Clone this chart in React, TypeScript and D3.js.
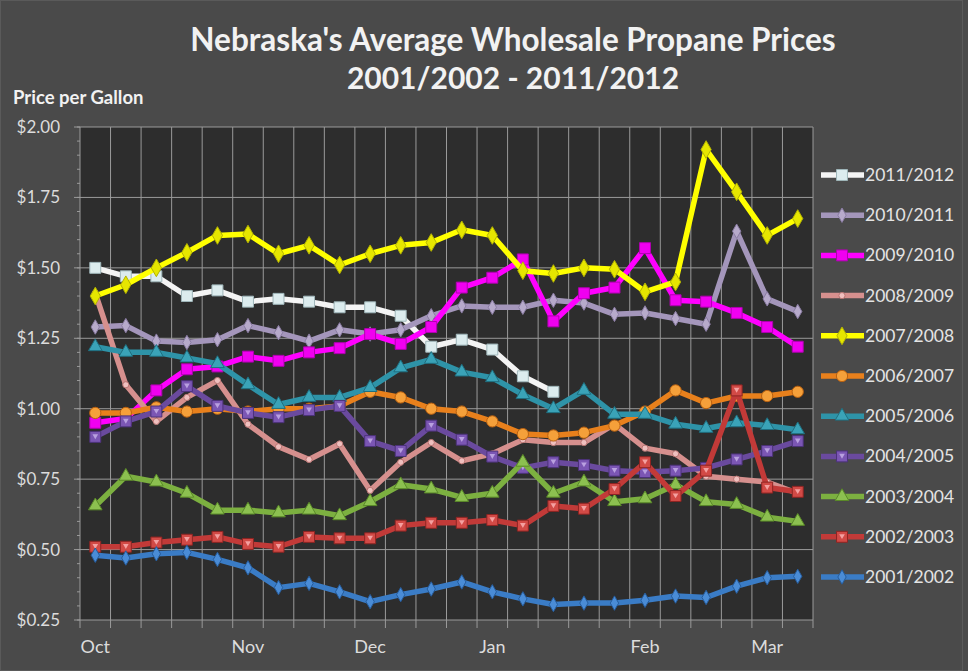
import * as d3 from "d3";

// weekly categories, only the first week of each month is labelled
const weekLabels = [
  "Oct", "", "", "", "",
  "Nov", "", "", "",
  "Dec", "", "", "",
  "Jan", "", "", "", "",
  "Feb", "", "", "",
  "Mar", "",
];

const yTicks = [0.25, 0.5, 0.75, 1.0, 1.25, 1.5, 1.75, 2.0];

const seasons = [
  "2011/2012", "2010/2011", "2009/2010", "2008/2009", "2007/2008", "2006/2007",
  "2005/2006", "2004/2005", "2003/2004", "2002/2003", "2001/2002",
];

const p2011 = [1.50, 1.47, 1.47, 1.40, 1.42, 1.38, 1.39, 1.38, 1.36, 1.36, 1.33, 1.22, 1.245, 1.21, 1.115, 1.06];
const p2010 = [1.29, 1.295, 1.24, 1.235, 1.245, 1.295, 1.27, 1.24, 1.28, 1.265, 1.28, 1.33, 1.365, 1.36, 1.36, 1.385, 1.375, 1.335, 1.34, 1.32, 1.30, 1.63, 1.39, 1.345];
const p2009 = [0.95, 0.965, 1.065, 1.14, 1.15, 1.185, 1.17, 1.20, 1.215, 1.265, 1.23, 1.29, 1.43, 1.465, 1.53, 1.31, 1.41, 1.43, 1.57, 1.385, 1.38, 1.34, 1.29, 1.22];
const p2008 = [1.41, 1.085, 0.955, 1.04, 1.10, 0.945, 0.865, 0.82, 0.875, 0.71, 0.81, 0.88, 0.815, 0.84, 0.89, 0.88, 0.88, 0.945, 0.86, 0.84, 0.76, 0.75, 0.74, 0.70];
const p2007 = [1.40, 1.44, 1.50, 1.555, 1.615, 1.62, 1.55, 1.58, 1.51, 1.55, 1.58, 1.59, 1.635, 1.615, 1.49, 1.48, 1.50, 1.495, 1.415, 1.45, 1.92, 1.77, 1.615, 1.675];
const p2006 = [0.985, 0.985, 1.005, 0.99, 1.0, 0.99, 1.0, 1.0, 1.01, 1.06, 1.04, 1.0, 0.99, 0.955, 0.91, 0.905, 0.915, 0.94, 0.99, 1.065, 1.02, 1.045, 1.045, 1.06];
const p2005 = [1.22, 1.20, 1.20, 1.18, 1.16, 1.085, 1.015, 1.04, 1.04, 1.075, 1.145, 1.175, 1.13, 1.11, 1.05, 1.0, 1.065, 0.98, 0.98, 0.945, 0.93, 0.95, 0.94, 0.925];
const p2004 = [0.90, 0.955, 0.99, 1.08, 1.01, 0.985, 0.97, 0.995, 1.01, 0.885, 0.85, 0.94, 0.89, 0.83, 0.79, 0.81, 0.80, 0.78, 0.775, 0.78, 0.79, 0.82, 0.85, 0.885];
const p2003 = [0.655, 0.76, 0.74, 0.70, 0.64, 0.64, 0.63, 0.64, 0.62, 0.67, 0.73, 0.715, 0.685, 0.70, 0.81, 0.70, 0.74, 0.67, 0.68, 0.73, 0.67, 0.66, 0.615, 0.60];
const p2002 = [0.51, 0.51, 0.525, 0.535, 0.545, 0.52, 0.51, 0.545, 0.54, 0.54, 0.585, 0.595, 0.595, 0.605, 0.585, 0.655, 0.645, 0.715, 0.81, 0.69, 0.78, 1.065, 0.72, 0.705];
const p2001 = [0.48, 0.47, 0.485, 0.49, 0.465, 0.435, 0.365, 0.38, 0.35, 0.315, 0.34, 0.36, 0.385, 0.35, 0.325, 0.305, 0.31, 0.31, 0.32, 0.335, 0.33, 0.37, 0.40, 0.405];

const seriesValues = [p2011, p2010, p2009, p2008, p2007, p2006, p2005, p2004, p2003, p2002, p2001];

type Style = {
  line: string;
  fill: string;
  edge: string;
  shape: d3.SymbolType;
  size: number;
  inner?: d3.SymbolType; // small highlight drawn on the marker
  innerFill?: string;
};

const styles: Style[] = [
  { line: "#f4f4f4", fill: "#dcecee", edge: "#9fb6ba", shape: d3.symbolSquare, size: 120 },
  { line: "#a496bb", fill: "#b7aacb", edge: "#8a7ca3", shape: d3.symbolDiamond, size: 60 },
  { line: "#ff00ff", fill: "#f000f0", edge: "#b000b0", shape: d3.symbolSquare, size: 120 },
  { line: "#d6908e", fill: "#f0c0bf", edge: "#b87472", shape: d3.symbolCircle, size: 30 },
  { line: "#ffff00", fill: "#e6e600", edge: "#b3b300", shape: d3.symbolDiamond, size: 90 },
  { line: "#e8801c", fill: "#f5a03a", edge: "#b86010", shape: d3.symbolCircle, size: 100 },
  { line: "#2e93a8", fill: "#3aa3b8", edge: "#1f6f80", shape: d3.symbolTriangle, size: 80 },
  { line: "#6a4a9e", fill: "#7b56b4", edge: "#4c327a", shape: d3.symbolSquare, size: 120, inner: d3.symbolTriangle, innerFill: "#b9a0e0" },
  { line: "#7cb040", fill: "#8cc050", edge: "#5a8a28", shape: d3.symbolTriangle, size: 80 },
  { line: "#c23a38", fill: "#d24a46", edge: "#8e2422", shape: d3.symbolSquare, size: 120, inner: d3.symbolTriangle, innerFill: "#f4a0a0" },
  { line: "#3a7cc6", fill: "#4a8cd6", edge: "#265c9c", shape: d3.symbolDiamond, size: 60 },
];

const W = 968;
const H = 671;
const left = 80;
const right = 813;
const top = 127;
const bottom = 620;
const font = "Lato, 'Open Sans', sans-serif";

const x = d3.scaleBand<number>().domain(d3.range(weekLabels.length)).range([left, right]);
const y = d3.scaleLinear().domain([0.25, 2.0]).range([bottom, top]);
const cx = (i: number) => (x(i) ?? 0) + x.bandwidth() / 2;

const lineGen = d3
  .line<number>()
  .x((_, i) => cx(i))
  .y((d) => y(d));

const Marker = ({ s, px, py }: { s: Style; px: number; py: number }) => (
  <g transform={`translate(${px},${py})`}>
    <path d={d3.symbol().type(s.shape).size(s.size)() ?? undefined} fill={s.fill} stroke={s.edge} strokeWidth={1} />
    {s.inner && (
      <path
        d={d3.symbol().type(s.inner).size(14)() ?? undefined}
        transform={`translate(0,-1) rotate(180)`}
        fill={s.innerFill}
      />
    )}
  </g>
);

const App = () => {
  const minorTicks = d3.range(0.25, 2.0001, 0.05);
  const bounds = d3.range(weekLabels.length + 1).map((i) => left + i * x.bandwidth());
  const legendY = (k: number) => 175 + k * 40.2;

  return (
    <svg width={W} height={H} style={{ position: "absolute", left: 0, top: 0 }}>
      <rect x={0} y={0} width={W} height={H} fill="#4a4a4a" />
      <rect x={0.5} y={0.5} width={W - 6} height={H - 1} fill="none" stroke="#5a5a5a" />
      <rect x={left} y={top} width={right - left} height={bottom - top} fill="#2d2d2d" />

      {/* grid */}
      {yTicks.map((t) => (
        <line key={t} x1={left - 6} x2={right} y1={y(t)} y2={y(t)} stroke="#9a9a9a" strokeWidth={1} />
      ))}
      {bounds.map((bx, i) => (
        <line key={i} x1={bx} x2={bx} y1={top} y2={bottom + 8} stroke="#9a9a9a" strokeWidth={1} />
      ))}
      {minorTicks.map((t, i) => (
        <line key={i} x1={left - 3} x2={left} y1={y(t)} y2={y(t)} stroke="#9a9a9a" strokeWidth={1} />
      ))}

      {/* axis labels */}
      {yTicks.map((t) => (
        <text key={t} x={60} y={y(t) + 6} textAnchor="end" fontFamily={font} fontSize={17} fill="#dcdcdc">
          {d3.format("$.2f")(t)}
        </text>
      ))}
      {weekLabels.map((lab, i) =>
        lab ? (
          <text key={i} x={cx(i)} y={653} textAnchor="middle" fontFamily={font} fontSize={18} fill="#dcdcdc">
            {lab}
          </text>
        ) : null
      )}

      {/* series, drawn in legend order so older seasons sit on top */}
      {seriesValues.map((vals, k) => (
        <g key={seasons[k]}>
          <path
            d={lineGen(vals) ?? undefined}
            fill="none"
            stroke={styles[k].line}
            strokeWidth={5.5}
            strokeLinejoin="round"
          />
          {vals.map((v, i) => (
            <Marker key={i} s={styles[k]} px={cx(i)} py={y(v)} />
          ))}
        </g>
      ))}

      {/* legend */}
      {seasons.map((name, k) => (
        <g key={name}>
          <line x1={821} x2={864} y1={legendY(k)} y2={legendY(k)} stroke={styles[k].line} strokeWidth={5.5} />
          <Marker s={styles[k]} px={842} py={legendY(k)} />
          <text x={865} y={legendY(k) + 6} fontFamily={font} fontSize={17.5} fill="#e4e4e4">
            {name}
          </text>
        </g>
      ))}

      {/* titles */}
      <text x={513} y={51} textAnchor="middle" fontFamily={font} fontWeight="bold" fontSize={31.5} fill="#f2f2f2">
        Nebraska's Average Wholesale Propane Prices
      </text>
      <text x={513} y={89} textAnchor="middle" fontFamily={font} fontWeight="bold" fontSize={30} fill="#f2f2f2">
        2001/2002 - 2011/2012
      </text>
      <text x={13} y={104} fontFamily={font} fontWeight="bold" fontSize={18.5} fill="#f2f2f2">
        Price per Gallon
      </text>
    </svg>
  );
};

export default App;
